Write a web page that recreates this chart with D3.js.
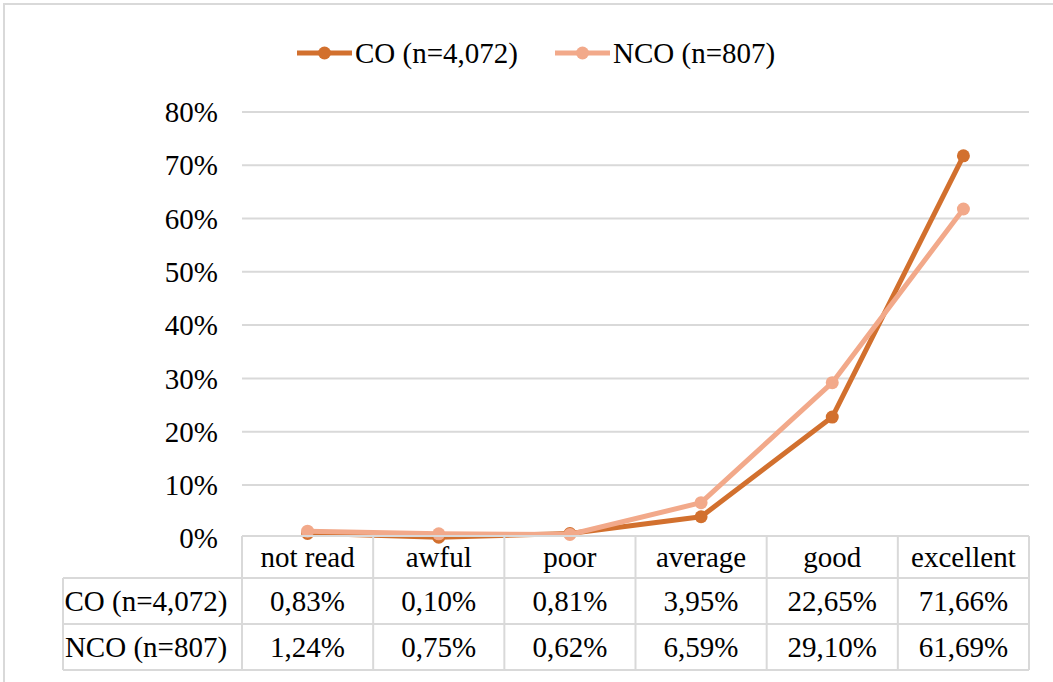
<!DOCTYPE html>
<html>
<head>
<meta charset="utf-8">
<script src="https://cdn.jsdelivr.net/npm/d3@7"></script>
<style>
  body { margin: 0; background: #fff; }
  svg { display: block; font-family: "Liberation Serif", "Times New Roman", serif; }
</style>
</head>
<body>
<svg id="chart" width="1053" height="682"></svg>
<script>
var categories = ["not read", "awful", "poor", "average", "good", "excellent"]
var seriesNames = ["CO (n=4,072)", "NCO (n=807)"]
var coValues = [0.83, 0.10, 0.81, 3.95, 22.65, 71.66]
var ncoValues = [1.24, 0.75, 0.62, 6.59, 29.10, 61.69]
var yTicks = [0, 10, 20, 30, 40, 50, 60, 70, 80]

var colors = ["#d2702e", "#f2a98a"]
var grid = "#d9d9d9"
var fontSize = 29

var svg = d3.select("#chart")

// outer chart border
svg.append("rect")
    .attr("x", 4).attr("y", 4)
    .attr("width", 1060).attr("height", 700)
    .attr("fill", "none")
    .attr("stroke", grid)
    .attr("stroke-width", 2)

var x = d3.scaleBand()
    .domain(categories)
    .range([242, 1029])

var y = d3.scaleLinear()
    .domain([0, 80])
    .range([537.8, 111.4])

// gridlines + y labels
var yAxis = svg.append("g")
    .attr("transform", "translate(242,0)")
    .call(d3.axisLeft(y).tickValues(yTicks).tickSize(-(1029 - 242)).tickPadding(24).tickFormat(d => d + "%"))

yAxis.select(".domain").remove()
yAxis.selectAll(".tick line")
    .attr("stroke", grid)
    .attr("stroke-width", 2)
    .attr("opacity", d => d == 0 ? 0 : 1)
yAxis.selectAll(".tick text")
    .attr("font-family", "Liberation Serif")
    .attr("font-size", fontSize)
    .attr("fill", "#000")
    .attr("dy", "0.35em")

// lines
var series = [coValues, ncoValues]
var line = d3.line()
    .x((d, i) => x(categories[i]) + x.bandwidth() / 2)
    .y(d => y(d))

series.forEach(function (vals, s) {
    var g = svg.append("g")
    g.append("path")
        .datum(vals)
        .attr("d", line)
        .attr("fill", "none")
        .attr("stroke", colors[s])
        .attr("stroke-width", 5)
        .attr("stroke-linejoin", "round")
    g.selectAll("circle")
        .data(vals)
        .enter().append("circle")
        .attr("cx", (d, i) => x(categories[i]) + x.bandwidth() / 2)
        .attr("cy", d => y(d))
        .attr("r", 6.5)
        .attr("fill", colors[s])
})

// data table
var rowTop = [536, 578, 624, 670]
var labelLeft = 63
var table = svg.append("g")
    .attr("stroke", grid)
    .attr("stroke-width", 2)

table.append("line")
    .attr("x1", 242).attr("x2", 1029)
    .attr("y1", rowTop[0]).attr("y2", rowTop[0])
rowTop.slice(1).forEach(function (ty) {
    table.append("line")
        .attr("x1", labelLeft).attr("x2", 1029)
        .attr("y1", ty).attr("y2", ty)
})
var bounds = categories.map(c => x(c)).concat([1029])
bounds.forEach(function (bx) {
    table.append("line")
        .attr("x1", bx).attr("x2", bx)
        .attr("y1", rowTop[0]).attr("y2", rowTop[3])
})
table.append("line")
    .attr("x1", labelLeft).attr("x2", labelLeft)
    .attr("y1", rowTop[1]).attr("y2", rowTop[3])

var fmt = d => d3.format(".2f")(d).replace(".", ",") + "%"

svg.append("g").selectAll("text")
    .data(categories)
    .enter().append("text")
    .attr("x", d => x(d) + x.bandwidth() / 2)
    .attr("y", (rowTop[0] + rowTop[1]) / 2)
    .attr("dy", "0.35em")
    .attr("text-anchor", "middle")
    .attr("font-size", fontSize)
    .text(d => d)

series.forEach(function (vals, s) {
    var cy = (rowTop[s + 1] + rowTop[s + 2]) / 2
    svg.append("text")
        .attr("x", 146)
        .attr("y", cy)
        .attr("dy", "0.35em")
        .attr("text-anchor", "middle")
        .attr("font-size", fontSize)
        .text(seriesNames[s])
    svg.append("g").selectAll("text")
        .data(vals)
        .enter().append("text")
        .attr("x", (d, i) => x(categories[i]) + x.bandwidth() / 2)
        .attr("y", cy)
        .attr("dy", "0.35em")
        .attr("text-anchor", "middle")
        .attr("font-size", fontSize)
        .text(d => fmt(d))
})

// legend
var legendX = [297, 555]
var legend = svg.append("g")
seriesNames.forEach(function (name, s) {
    var lx = legendX[s]
    legend.append("line")
        .attr("x1", lx).attr("x2", lx + 55)
        .attr("y1", 53).attr("y2", 53)
        .attr("stroke", colors[s])
        .attr("stroke-width", 5)
    legend.append("circle")
        .attr("cx", lx + 27.5).attr("cy", 53)
        .attr("r", 6.5)
        .attr("fill", colors[s])
    legend.append("text")
        .attr("x", lx + 58).attr("y", 53)
        .attr("dy", "0.35em")
        .attr("font-size", fontSize)
        .text(name)
})
</script>
</body>
</html>
